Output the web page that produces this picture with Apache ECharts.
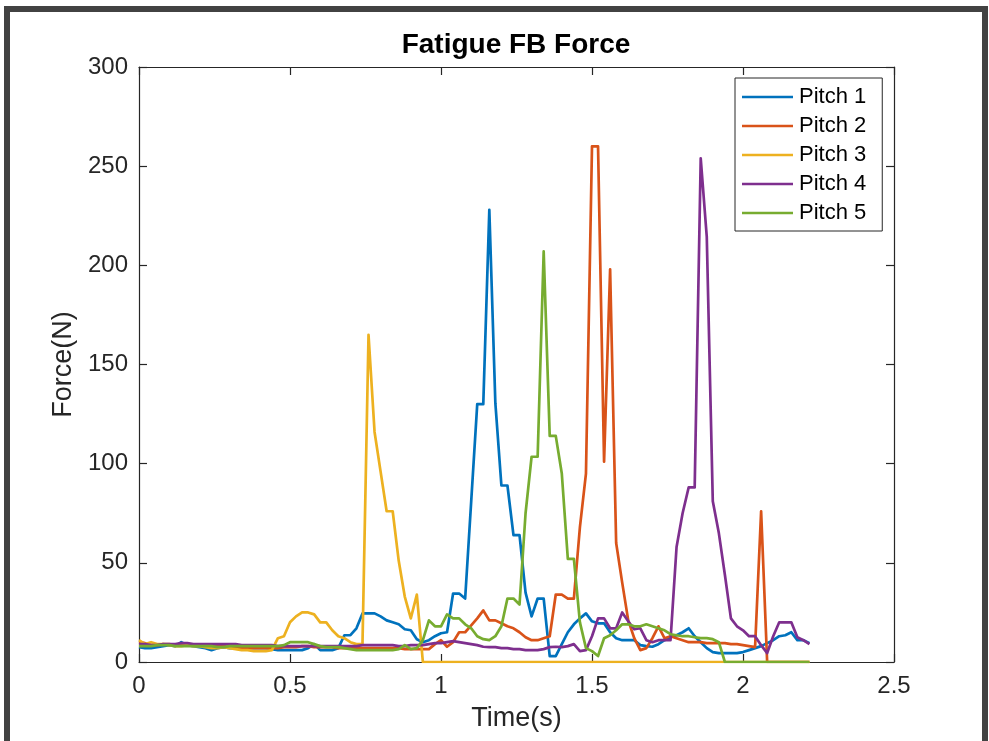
<!DOCTYPE html>
<html>
<head>
<meta charset="utf-8">
<title>Fatigue FB Force</title>
<script src="https://cdn.jsdelivr.net/npm/echarts@6/dist/echarts.min.js"></script>
<style>
  html, body { margin: 0; padding: 0; background: #ffffff; overflow: hidden; }
  #wrap { position: relative; width: 989px; height: 741px; background: #ffffff; }
  #frame {
    position: absolute; left: 4px; top: 6px; width: 972px; height: 760px;
    border: 6px solid #424242; box-sizing: content-box; pointer-events: none;
  }
  #chart { position: absolute; left: 0; top: 0; width: 989px; height: 741px; }
</style>
</head>
<body>
<div id="wrap">
  <div id="chart"></div>
  <div id="frame"></div>
</div>
<script>
// Force plate readings for five fastball pitches, sampled at 50 Hz (0 .. 2.22 s).
const SAMPLE_STEP = 0.02;
const SAMPLE_COUNT = 112;
const time = Array.from({ length: SAMPLE_COUNT }, (_, i) => Math.round(i * SAMPLE_STEP * 100) / 100);

const seriesNames = ['Pitch 1', 'Pitch 2', 'Pitch 3', 'Pitch 4', 'Pitch 5'];

const pitch1 = [
  7.5, 7, 7, 7.5, 8, 8.5, 8, 10, 8.5, 8,
  7.5, 7, 6, 7, 7.5, 7, 7, 7, 7, 7,
  7, 7, 6.5, 6, 6, 6, 6, 6, 7, 9,
  6, 6, 6, 7, 13.5, 13.5, 17, 24.5, 24.5, 24.5,
  23, 21, 20, 19, 16.5, 16, 11.5, 10, 11, 13,
  14.5, 15, 34.5, 34.5, 32, 81, 130, 130, 228, 130.5,
  89, 89, 64, 64, 35, 23, 32, 32, 3, 3,
  9, 15, 19, 22, 24.5, 20.5, 19.5, 19.5, 15, 12,
  11, 11, 11, 8.5, 8, 7.7, 9, 11, 12.5, 13.5,
  15, 17, 13, 10, 7, 5, 4.5, 4.5, 4.5, 4.5,
  5, 6, 7, 8, 9.5, 11, 13, 13.5, 15, 11,
  11, 9.5
];

const pitch2 = [
  10, 9.5, 8.5, 8.5, 9, 9, 8.5, 8.5, 8.5, 8.5,
  8.5, 8, 8, 8, 8, 7.5, 7.5, 7, 7, 7,
  7, 7, 7, 7, 7.5, 7.5, 7.5, 8, 8, 7.5,
  7.5, 7.5, 7.5, 7, 7, 7, 7, 7, 7, 7,
  7, 7, 7, 7, 6.5, 6.5, 6.5, 6.5, 6.5, 9,
  11, 7.7, 10, 15, 15, 18.5, 22, 26, 21, 21,
  19.5, 18, 17, 15, 12.5, 11, 11, 12, 13, 34,
  34, 32, 32, 68, 95, 260, 260, 101, 198, 60,
  40, 21, 12, 6, 7, 12, 18, 12, 13, 12,
  11, 10, 10, 10, 9.5, 9.5, 9.5, 9.5, 9, 9,
  8.5, 8, 7.5, 76, 0, 0, 0, 0, 0, 0,
  0, 0
];

const pitch3 = [
  11, 9, 10, 9, 9, 8.5, 8, 8, 8.5, 8,
  8, 7.5, 7, 7, 7.5, 7, 6.5, 6, 6, 5.5,
  5.5, 5.5, 6, 12, 13, 20, 23, 25, 25, 24,
  20, 20, 16, 13, 12, 10, 9, 9, 165, 116,
  96, 76, 76, 51, 33, 22, 34, 0, 0, 0,
  0, 0, 0, 0, 0, 0, 0, 0, 0, 0,
  0, 0, 0, 0, 0, 0, 0, 0, 0, 0,
  0, 0, 0, 0, 0, 0, 0, 0, 0, 0,
  0, 0, 0, 0, 0, 0, 0, 0, 0, 0,
  0, 0, 0, 0, 0, 0, 0, 0, 0, 0,
  0, 0, 0, 0, 0, 0, 0, 0, 0, 0,
  0, 0
];

const pitch4 = [
  9, 9, 8.5, 8.5, 9, 9, 9, 9.5, 9.5, 9,
  9, 9, 9, 9, 9, 9, 9, 8.5, 8.5, 8.5,
  8.5, 8.5, 8.5, 8, 8, 8, 8, 8, 8, 8,
  8, 8, 8, 8, 8, 8, 8, 8.5, 8.5, 8.5,
  8.5, 8.5, 8.5, 8, 8, 8.5, 8.5, 8.5, 9, 9.5,
  9.5, 10, 10.5, 10, 9.5, 9, 8.5, 7.7, 7.5, 7.5,
  7, 7, 6.5, 6.5, 6, 6, 6, 6.5, 7.5, 7.7,
  7.5, 8, 9, 5.5, 6, 13, 22, 22, 17, 17,
  25, 20.5, 16.5, 17, 11, 10, 11, 11, 11, 58,
  75, 88, 88, 254, 214.5, 81, 65, 44, 22, 18,
  16, 13, 13, 8.5, 4.5, 13, 20, 20, 20, 12.5,
  11, 9
];

const pitch5 = [
  8, 8, 8, 8.5, 8.5, 8.5, 8, 8, 8, 8,
  8, 8, 8, 7.5, 7.5, 8, 8, 8, 8, 8,
  8, 8, 8, 8, 8.5, 10, 10, 10, 10, 9,
  8, 7.5, 7.5, 7.5, 7, 6.5, 6, 6, 6, 6,
  6, 6, 6, 6.5, 8.5, 6.5, 7, 11, 21, 18,
  18, 24, 22, 22, 19, 17, 13, 11.5, 11, 13,
  18, 32, 32, 29, 75, 103.5, 103.5, 207, 114, 114,
  95, 52, 52, 20, 7, 5.5, 3, 12, 13.5, 16,
  19, 19, 18, 18, 19, 18, 17, 16, 14, 13.5,
  13, 13, 12.5, 12, 12, 11.5, 10, 0, 0, 0,
  0, 0, 0, 0, 0, 0, 0, 0, 0, 0,
  0, 0
];

const xTicks = { min: 0, max: 2.5, interval: 0.5 };
const yTicks = { min: 0, max: 300, interval: 50 };

const seriesValues = [pitch1, pitch2, pitch3, pitch4, pitch5];
const colors = ['#0072BD', '#D95319', '#EDB120', '#7E2F8E', '#77AC30'];

const FONT = '"Liberation Sans", Arial, Helvetica, sans-serif';
const AXIS_COLOR = '#262626';

const chart = echarts.init(document.getElementById('chart'), null, { renderer: 'canvas' });

// MATLAB-style closed box: plain axes on top and right with inward ticks.
function boxAxis(extra) {
  return Object.assign({
    type: 'value',
    splitLine: { show: false },
    axisLine: { show: true, onZero: false, lineStyle: { color: AXIS_COLOR, width: 1.2 } },
    axisTick: { show: true, inside: true, length: 8, lineStyle: { color: AXIS_COLOR, width: 1.2 } },
    axisLabel: { show: false },
    minorTick: { show: false }
  }, extra);
}

const option = {
  animation: false,
  backgroundColor: '#ffffff',
  color: colors,
  grid: { left: 139, top: 67, right: 95, bottom: 79, containLabel: false },
  graphic: [{
    type: 'text',
    x: 516,
    y: 45,
    style: {
      text: 'Fatigue FB Force',
      font: 'bold 28px ' + FONT,
      fill: '#000000',
      textAlign: 'center',
      textVerticalAlign: 'middle',
      verticalAlign: 'middle'
    }
  }],
  legend: {
    orient: 'vertical',
    left: 735,
    top: 78,
    padding: [8, 16, 7, 7],
    itemWidth: 51,
    itemHeight: 2.5,
    itemGap: 7,
    icon: 'rect',
    backgroundColor: '#ffffff',
    borderColor: AXIS_COLOR,
    borderWidth: 1,
    borderRadius: 0,
    textStyle: { fontFamily: FONT, fontSize: 22, lineHeight: 22, color: '#000000', padding: [0, 0, 0, 1] },
    data: seriesNames
  },
  xAxis: [
    boxAxis({
      position: 'bottom',
      min: xTicks.min, max: xTicks.max, interval: xTicks.interval,
      axisLabel: { show: true, fontFamily: FONT, fontSize: 24, color: AXIS_COLOR, margin: 12 },
      name: 'Time(s)',
      nameLocation: 'middle',
      nameGap: 43,
      nameTextStyle: { fontFamily: FONT, fontSize: 27, color: AXIS_COLOR }
    }),
    boxAxis({ position: 'top', min: xTicks.min, max: xTicks.max, interval: xTicks.interval })
  ],
  yAxis: [
    boxAxis({
      position: 'left',
      min: yTicks.min, max: yTicks.max, interval: yTicks.interval,
      axisLabel: { show: true, fontFamily: FONT, fontSize: 24, color: AXIS_COLOR, margin: 11 },
      name: 'Force(N)',
      nameLocation: 'middle',
      nameGap: 58,
      nameRotate: 90,
      nameTextStyle: { fontFamily: FONT, fontSize: 27, color: AXIS_COLOR }
    }),
    boxAxis({ position: 'right', min: yTicks.min, max: yTicks.max, interval: yTicks.interval })
  ],
  series: seriesNames.map((name, k) => ({
    name: name,
    type: 'line',
    xAxisIndex: 0,
    yAxisIndex: 0,
    showSymbol: false,
    symbol: 'none',
    smooth: false,
    clip: true,
    lineStyle: { width: 2.7, color: colors[k], join: 'round' },
    itemStyle: { color: colors[k] },
    emphasis: { disabled: true },
    data: time.map((t, i) => [t, seriesValues[k][i]])
  }))
};

chart.setOption(option);
</script>
</body>
</html>
